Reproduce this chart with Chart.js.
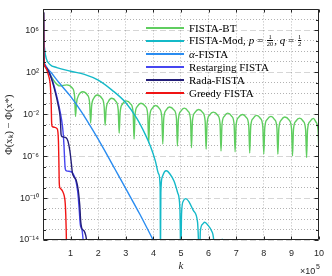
<!DOCTYPE html>
<html>
  <head>
    <script src="https://cdn.jsdelivr.net/npm/chart.js"></script>
    <style>
      body { margin: 0; background: #fff; }
      #wrap { position: relative; width: 332px; height: 276px; }
      #legend { position: absolute; left: 146px; top: 21px; font-family: "Liberation Serif", serif; font-size: 11px; color: #000; }
      .row { display: flex; align-items: center; height: 13px; white-space: nowrap; }
      .swatch { flex: 0 0 38px; height: 2px; margin-right: 5px; }
      .fr { display: inline-flex; flex-direction: column; vertical-align: middle; font-size: 6.5px; line-height: 6px; text-align: center; margin: 0 1px; }
      .fr span:first-child { border-bottom: 0.6px solid #000; }
    </style>
  </head>
  <body>
    <div id="wrap">
      <canvas id="gapChart" width="332" height="276"></canvas>
      <div id="legend"></div>
    </div>

    <script>
      // k is in units of 1e5 iterations, gaps are stored as log10(Phi(x_k) - Phi(x*))
      const names = ['FISTA-BT', 'FISTA-Mod, p = 1/20, q = 1/2', 'α-FISTA', 'Restarging FISTA', 'Rada-FISTA', 'Greedy FISTA'];
      const legendText = [
        'FISTA-BT',
        'FISTA-Mod, <i>p</i> = <span class="fr"><span>1</span><span>20</span></span>, <i>q</i> = <span class="fr"><span>1</span><span>2</span></span>',
        '<i>α</i>-FISTA',
        'Restarging FISTA',
        'Rada-FISTA',
        'Greedy FISTA'
      ];
      const colors = ['#5fcd5f', '#14b9c8', '#2a8cf0', '#4646f0', '#231e78', '#f01414'];

      const btK = [0.02, 0.03, 0.05, 0.154, 0.3, 0.45, 0.6, 0.86, 1.06, 1.145, 1.179,
        1.214, 1.299, 1.44, 1.605, 1.69, 1.725,
        1.76, 1.845, 1.96, 2.13, 2.215, 2.25,
        2.285, 2.37, 2.49, 2.64, 2.725, 2.76,
        2.795, 2.88, 3.01, 3.18, 3.265, 3.30,
        3.335, 3.42, 3.55, 3.71, 3.795, 3.83,
        3.865, 3.95, 4.08, 4.22, 4.305, 4.34,
        4.375, 4.46, 4.58, 4.75, 4.835, 4.87,
        4.905, 4.99, 5.12, 5.26, 5.345, 5.38,
        5.415, 5.5, 5.64, 5.79, 5.875, 5.91,
        5.945, 6.03, 6.17, 6.33, 6.415, 6.45,
        6.485, 6.57, 6.69, 6.84, 6.925, 6.96,
        6.995, 7.08, 7.23, 7.37, 7.455, 7.49,
        7.525, 7.61, 7.74, 7.88, 7.965, 8.0,
        8.035, 8.12, 8.26, 8.39, 8.475, 8.51,
        8.545, 8.63, 8.76, 8.92, 9.005, 9.04,
        9.075, 9.16, 9.30, 9.43, 9.515, 9.55,
        9.585, 9.67, 9.80, 9.88, 9.965, 10.0];
      const btLog = [7.7, 3.6, 2.75, 2.32, 1.6, 1.0, 0.7, 0.8, 0.5, -0.3, -2.21,
        -0.95, -0.15, 0.15, -0.15, -0.95, -2.84,
        -1.26, -0.46, -0.16, -0.46, -1.26, -3.06,
        -1.58, -0.78, -0.48, -0.78, -1.58, -3.81,
        -1.83, -1.03, -0.73, -1.03, -1.83, -4.38,
        -2.05, -1.25, -0.95, -1.25, -2.05, -4.73,
        -2.27, -1.47, -1.17, -1.47, -2.27, -4.85,
        -2.41, -1.61, -1.31, -1.61, -2.41, -5.04,
        -2.52, -1.72, -1.42, -1.72, -2.52, -5.2,
        -2.65, -1.85, -1.55, -1.85, -2.65, -5.35,
        -2.9, -2.1, -1.8, -2.1, -2.9, -5.51,
        -3.0, -2.2, -1.9, -2.2, -3.0, -5.58,
        -3.12, -2.32, -2.02, -2.32, -3.12, -5.70,
        -3.21, -2.41, -2.11, -2.41, -3.21, -5.79,
        -3.31, -2.51, -2.21, -2.51, -3.31, -5.82,
        -3.37, -2.57, -2.27, -2.57, -3.37, -5.98,
        -3.47, -2.67, -2.37, -2.67, -3.47, -6.14,
        -3.5, -2.7, -2.40, -2.7, -3.5, -5.98];

      const modK = [0.02, 0.03, 0.06, 0.12, 0.25, 0.5, 1.0, 1.5, 2.0, 2.5, 3.0, 3.4, 3.7, 3.9,
        4.07, 4.19, 4.245, 4.255, 4.27, 4.32, 4.4, 4.47, 4.6, 4.75, 4.88, 4.96, 4.995,
        5.02, 5.08, 5.17, 5.3, 5.45, 5.6, 5.675, 5.70, 5.78, 5.86, 5.98, 6.1, 6.19, 6.215,
        6.45, 6.49, 6.53];
      const modLog = [7.7, 5.5, 4.2, 3.3, 2.75, 2.45, 2.1, 1.8, 1.25, 0.3, -0.9, -2.4, -3.9, -5.1,
        -6.45, -7.7, -9.0, -16, -9.5, -8.0, -7.5, -7.4, -7.7, -8.4, -9.5, -11, -16,
        -11.5, -10.3, -10.05, -10.4, -11.2, -12.3, -16, -13.2, -12.5, -12.3, -12.6, -13.1, -14.2, -16,
        -16, -13.9, -16];

      const alphaK = [0.02, 0.03, 0.06, 0.14, 0.3, 0.6, 1.0, 1.4, 1.8, 2.2, 2.6, 3.0, 3.5, 4.0];
      const alphaLog = [7.7, 3.6, 2.8, 2.45, 1.95, 0.95, -0.3, -1.8, -3.5, -5.3, -7.2, -9.1, -11.5, -14.05];

      const restartK = [0.02, 0.03, 0.05, 0.154, 0.332, 0.475, 0.582, 0.671, 0.725, 0.761, 0.786, 0.807,
        0.85, 1.029, 1.1, 1.189, 1.261, 1.314, 1.35, 1.386, 1.421, 1.457];
      const restartLog = [7.7, 3.6, 2.75, 2.32, 1.28, -0.04, -1.26, -2.49, -3.62, -5.04, -6.45, -7.21,
        -7.40, -7.49, -7.73, -8.34, -9.47, -11.17, -12.49, -12.87, -13.15, -14.1];

      const radaK = [0.02, 0.03, 0.05, 0.154, 0.296, 0.439, 0.546, 0.618, 0.636, 0.654, 0.689, 0.832,
        0.904, 0.975, 1.029, 1.064, 1.118, 1.207, 1.279, 1.332, 1.368, 1.404, 1.493, 1.546, 1.582];
      const radaLog = [7.7, 3.6, 2.75, 2.32, 1.47, 0.15, -1.08, -2.21, -2.87, -3.91, -4.14, -4.24,
        -4.57, -5.51, -6.74, -7.58, -7.96, -8.34, -9.28, -10.70, -12.30, -12.87, -13.15, -13.53, -14.05];

      const greedyK = [0.02, 0.03, 0.05, 0.09, 0.15, 0.2, 0.245, 0.27, 0.29, 0.30, 0.31, 0.33, 0.42, 0.5,
        0.54, 0.56, 0.575, 0.59, 0.61, 0.66, 0.71, 0.77, 0.805, 0.825, 0.84, 0.85];
      const greedyLog = [7.7, 3.6, 2.7, 2.5, 2.15, 1.7, 1.2, 0.6, -0.5, -1.3, -2.6, -3.15, -3.25, -3.35,
        -3.7, -4.6, -6.5, -8.6, -9.0, -9.15, -9.35, -9.8, -10.5, -11.6, -13, -14.3];

      const xTicks = [0, 1, 2, 3, 4, 5, 6, 7, 8, 9, 10];
      const yDecades = [-14, -13, -12, -11, -10, -9, -8, -7, -6, -5, -4, -3, -2, -1, 0, 1, 2, 3, 4, 5, 6, 7, 8];
      const yLabelled = [-14, -10, -6, -2, 2, 6];

      const series = [[btK, btLog], [modK, modLog], [alphaK, alphaLog], [restartK, restartLog], [radaK, radaLog], [greedyK, greedyLog]];

      const supMap = { '-': '⁻', '0': '⁰', '1': '¹', '2': '²', '3': '³', '4': '⁴', '5': '⁵', '6': '⁶', '7': '⁷', '8': '⁸', '9': '⁹' };
      const sup = n => String(n).split('').map(c => supMap[c]).join('');
      const expOf = v => Math.round(Math.log10(v));

      const datasets = series.map(([ks, logs], i) => ({
        label: names[i],
        data: ks.map((k, j) => ({ x: k, y: Math.pow(10, logs[j]) })),
        borderColor: colors[i],
        borderWidth: 1.4,
        pointRadius: 0,
        cubicInterpolationMode: 'monotone',
        order: series.length - i
      }));

      const legend = document.getElementById('legend');
      legendText.forEach((txt, i) => {
        const row = document.createElement('div');
        row.className = 'row';
        const swatch = document.createElement('span');
        swatch.className = 'swatch';
        swatch.style.backgroundColor = colors[i];
        const label = document.createElement('span');
        label.innerHTML = txt;
        row.appendChild(swatch);
        row.appendChild(label);
        legend.appendChild(row);
      });

      const frame = {
        id: 'frame',
        afterDraw(chart) {
          const { ctx, chartArea: a, scales: { x, y } } = chart;
          const l = Math.round(a.left) + 0.5, r = Math.round(a.right) - 0.5;
          const t = Math.round(a.top) + 0.5, b = Math.round(a.bottom) - 0.5;
          ctx.save();
          ctx.strokeStyle = '#262626';
          ctx.lineWidth = 1;
          ctx.beginPath();
          ctx.rect(l, t, r - l, b - t);
          y.ticks.forEach(tk => {
            const py = Math.round(y.getPixelForValue(tk.value)) + 0.5;
            const len = yLabelled.includes(expOf(tk.value)) ? 4 : 2.5;
            ctx.moveTo(l, py); ctx.lineTo(l + len, py);
            ctx.moveTo(r, py); ctx.lineTo(r - len, py);
          });
          x.ticks.forEach(tk => {
            const px = Math.round(x.getPixelForValue(tk.value)) + 0.5;
            ctx.moveTo(px, b); ctx.lineTo(px, b - 3);
            ctx.moveTo(px, t); ctx.lineTo(px, t + 3);
          });
          ctx.stroke();
          ctx.fillStyle = '#262626';
          ctx.textBaseline = 'alphabetic';
          ctx.font = '9px "Liberation Sans"';
          ctx.fillText('×10', 300, 274);
          ctx.font = '7px "Liberation Sans"';
          ctx.fillText('5', 316, 268.5);
          ctx.restore();
        }
      };

      new Chart(document.getElementById('gapChart'), {
        type: 'line',
        data: { datasets: datasets },
        options: {
          responsive: false,
          animation: false,
          devicePixelRatio: 1,
          layout: { padding: { top: 7, right: 8, left: 0, bottom: 0 } },
          plugins: { legend: { display: false }, tooltip: { enabled: false } },
          scales: {
            x: {
              type: 'linear',
              min: 0,
              max: 10,
              afterFit: s => { s.height = 36; },
              afterBuildTicks: s => { s.ticks = xTicks.map(v => ({ value: v })); },
              ticks: {
                autoSkip: false,
                maxRotation: 0,
                padding: 8,
                color: '#262626',
                font: { family: 'Liberation Sans', size: 9 },
                callback: v => v === 0 ? '' : String(v)
              },
              grid: { drawTicks: false, color: 'rgba(0,0,0,0.28)' },
              border: { display: false, dash: [1, 2] },
              title: {
                display: true,
                text: 'k',
                color: '#262626',
                font: { family: 'Liberation Serif', style: 'italic', size: 11 },
                padding: { top: 0, bottom: 3 }
              }
            },
            y: {
              type: 'logarithmic',
              min: 1e-14,
              max: 1e8,
              afterFit: s => { s.width = 43; },
              afterBuildTicks: s => { s.ticks = yDecades.map(e => ({ value: Math.pow(10, e) })); },
              ticks: {
                autoSkip: false,
                padding: 4,
                color: '#262626',
                font: { family: 'Liberation Sans', size: 9 },
                callback: v => {
                  const e = expOf(v);
                  return yLabelled.includes(e) ? '10' + sup(e) : '';
                }
              },
              grid: {
                drawTicks: false,
                color: c => c.tick && yLabelled.includes(expOf(c.tick.value)) ? 'rgba(0,0,0,0.16)' : 'rgba(0,0,0,0.3)'
              },
              border: {
                display: false,
                dash: c => c.tick && yLabelled.includes(expOf(c.tick.value)) ? [6, 3] : [1, 2]
              },
              title: {
                display: true,
                text: 'Φ(xₖ) − Φ(x*)',
                color: '#262626',
                font: { family: 'Liberation Serif', size: 10.5 },
                padding: { top: 3, bottom: 0 }
              }
            }
          }
        },
        plugins: [frame]
      });
    </script>
  </body>
</html>
